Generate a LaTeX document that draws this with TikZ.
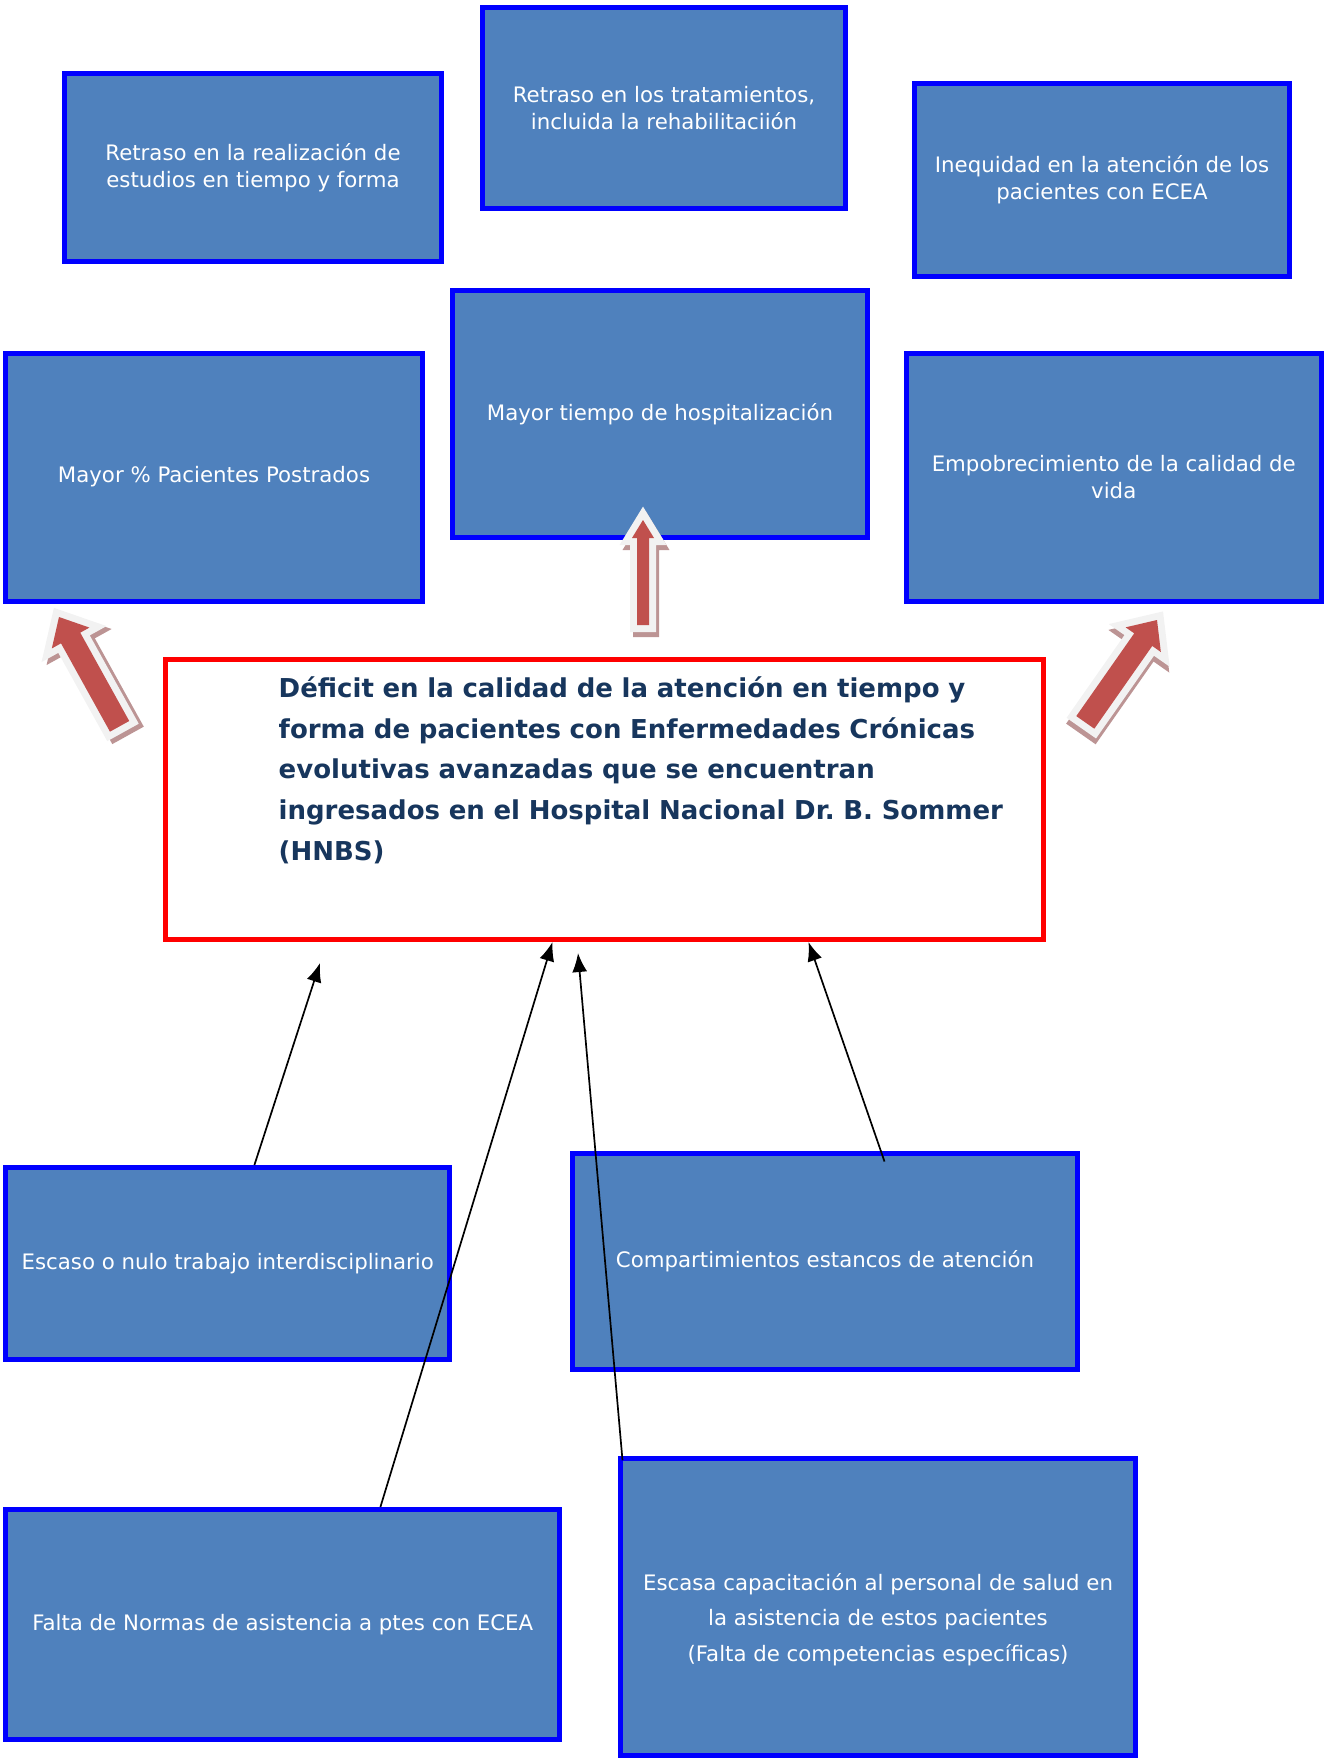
\documentclass[tikz,border=0pt]{standalone}
\usepackage{fontspec}
\setmainfont{DejaVu Sans}
\usetikzlibrary{arrows.meta}

\definecolor{boxfill}{RGB}{79,129,189}
\definecolor{boxline}{RGB}{0,0,255}
\definecolor{probline}{RGB}{255,0,0}
\definecolor{probtext}{RGB}{23,54,93}
\definecolor{arrowred}{RGB}{192,80,77}
\definecolor{arrowedge}{RGB}{242,242,242}
\definecolor{arrowshade}{RGB}{188,148,148}

\begin{document}
\frenchspacing
\begin{tikzpicture}[x = 1pt, y = -1pt, box/.style = {draw = boxline, line width = 5pt, fill = boxfill, text = white, font = \fontsize{21.3}{27}\selectfont, align = center, inner sep = 0pt}, prob/.style = {draw = probline, line width = 5pt, fill = white, inner sep = 0pt}, probtxt/.style = {text = probtext, font = \fontsize{26}{40.7}\selectfont\bfseries, align = left, text width = 760pt, inner sep = 0pt}, link/.style = {-{Latex[length = 19pt, width = 15pt]}, line width = 1.7pt}, pics/redarrow/.style n args = {4}{code = {
        \path[fill = arrowshade, draw = arrowshade, line width = 14pt, line join = miter, shift = {(3,5)}] (0,0) -- (#2,#3) -- (#1,#3) -- (#1,#4) -- (-#1,#4) -- (-#1,#3) -- (-#2,#3) -- cycle;
        \path[fill = arrowedge, draw = arrowedge, line width = 14pt, line join = miter] (0,0) -- (#2,#3) -- (#1,#3) -- (#1,#4) -- (-#1,#4) -- (-#1,#3) -- (-#2,#3) -- cycle;
        \path[fill = arrowred] (0,0) -- (#2,#3) -- (#1,#3) -- (#1,#4) -- (-#1,#4) -- (-#1,#3) -- (-#2,#3) -- cycle;}}]
    \useasboundingbox (0,0) rectangle (1325,1762);
    \node[box, minimum width = 377pt, minimum height = 188pt] (retrasoEst) at (253,167.5) {Retraso en la realización de\\estudios en tiempo y forma};
    \node[box, minimum width = 363pt, minimum height = 201.5pt] (retrasoTrat) at (664,108) {Retraso en los tratamientos,\\incluida la rehabilitaciión};
    \node[box, minimum width = 374.5pt, minimum height = 193pt] (inequidad) at (1102,180) {Inequidad en la atención de los\\pacientes con ECEA};
    \node[box, minimum width = 416.6pt, minimum height = 248pt] (postrados) at (214,477) {Mayor \% Pacientes Postrados};
    \node[box, minimum width = 415.5pt, minimum height = 246.5pt] (hospital) at (660,414) {Mayor tiempo de hospitalización};
    \node[box, minimum width = 415.5pt, minimum height = 248pt] (calidadVida) at (1113.75,477) {Empobrecimiento de la calidad de\\vida};
    \node[prob, minimum width = 878pt, minimum height = 280pt] (deficit) at (604.5,799.5) {};
    \node[probtxt, anchor = north west] (deficitTxt) at ([xshift = 115.5pt, yshift = -19.5pt]deficit.north west) {Déficit en la calidad de la atención en tiempo y\\forma de pacientes con Enfermedades Crónicas\\evolutivas avanzadas que se encuentran\\ingresados en el Hospital Nacional Dr. B. Sommer\\(HNBS)};
    \node[box, minimum width = 443.6pt, minimum height = 192pt] (interdisc) at (227.7,1263.5) {Escaso o nulo trabajo interdisciplinario};
    \node[box, minimum width = 505pt, minimum height = 216pt] (estancos) at (825,1261.5) {Compartimientos estancos de atención};
    \node[box, minimum width = 553.6pt, minimum height = 230pt] (normas) at (282.7,1624.5) {Falta de Normas de asistencia a ptes con ECEA};
    \node[box, minimum width = 515pt, minimum height = 296.5pt, font = \fontsize{21.3}{35.5}\selectfont] (capacitacion) at (878,1607) {\rule{0pt}{42pt}Escasa capacitación al personal de salud en\\la asistencia de estos pacientes\\(Falta de competencias específicas)};

    \pic at (643,520) {redarrow = {6}{11}{18}{105}};
    \pic[rotate = 29] at (59,617) {redarrow = {11}{21.5}{24}{125}};
    \pic[rotate = -35] at (1157,620) {redarrow = {11}{21.5}{24}{125}};

    \coordinate (tipA) at (320,963);
    \coordinate (tipC) at (578,953);
    \draw[link] ([xshift = 251pt]interdisc.north west) -- (tipA);
    \draw[link] ([xshift = 377pt]normas.north west) -- ([xshift = 389.5pt]deficit.south west);
    \draw[link] ([xshift = 4.5pt, yshift = -4pt]capacitacion.north west) -- (tipC);
    \draw[link] ([xshift = 314.5pt, yshift = -10.5pt]estancos.north west) -- ([xshift = 645.5pt]deficit.south west);
\end{tikzpicture}
\end{document}
